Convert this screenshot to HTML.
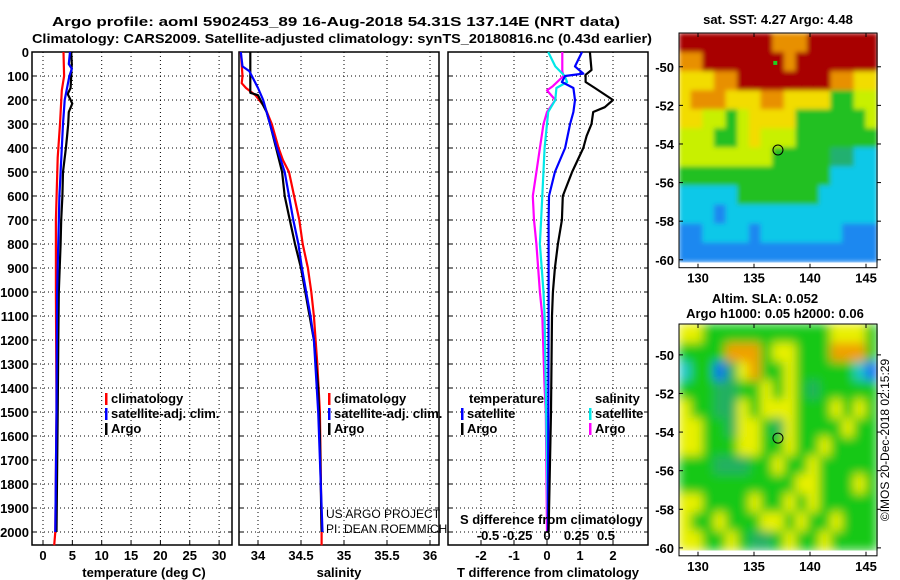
<!DOCTYPE html>
<html><head><meta charset="utf-8">
<style>
html,body{margin:0;padding:0;background:#fff;width:900px;height:580px;overflow:hidden}
svg{display:block;font-family:"Liberation Sans",sans-serif}
text{font-weight:bold;font-size:13px;fill:#000}
text.thin{font-weight:normal;font-size:12px}
</style></head>
<body>
<svg id="fig" width="900" height="580" viewBox="0 0 900 580"></svg>
<script>
// ---------- DATA ----------
const depthTicks=[0,100,200,300,400,500,600,700,800,900,1000,1100,1200,1300,1400,1500,1600,1700,1800,1900,2000];
const tempTicks=[0,5,10,15,20,25,30];
const salTicks=[34,34.5,35,35.5,36];
const salTickLabels=["34","34.5","35","35.5","36"];
const tdiffTicks=[-2,-1,0,1,2];
const sdiffTicks=[-0.5,-0.25,0,0.25,0.5];
const sdiffTickLabels=["-0.5","-0.25","0","0.25","0.5"];

const tArgoDepth=[0,50,100,150,175,200,215,250,300,350,400,500,600,700,800,1000,1200,1500,1750,2000];
const tArgoVal=[4.8,4.9,4.8,4.7,4.2,4.7,5.0,4.4,4.3,4.1,3.9,3.4,3.3,3.1,3.0,2.7,2.6,2.5,2.4,2.3];
const tSatDepth=[0,50,70,100,200,300,400,600,1000,1500,2000];
const tSatVal=[4.6,4.4,4.9,4.5,3.7,3.4,3.2,2.8,2.4,2.3,2.1];
const tClimDepth=[0,100,160,300,440,700,1000,1500,2000,2055];
const tClimVal=[3.5,3.6,3.2,2.9,2.5,2.2,2.2,2.3,2.1,1.9];

const sArgoDepth=[0,170,180,250,300,400,500,600,700,800,900,1000,1100,1200,1400,1600,2000];
const sArgoVal=[33.91,33.91,34.0,34.1,34.14,34.21,34.28,34.31,34.37,34.43,34.5,34.55,34.6,34.65,34.7,34.72,34.74];
const sSatDepth=[0,60,80,150,200,250,300,400,500,600,700,800,900,1000,1100,1200,1500,2000];
const sSatVal=[33.8,33.82,33.9,34.0,34.06,34.1,34.14,34.22,34.31,34.36,34.41,34.47,34.51,34.56,34.61,34.65,34.7,34.75];
const sClimDepth=[0,100,130,150,180,230,300,400,450,500,600,700,800,900,1000,1100,1300,1500,2000,2055];
const sClimVal=[33.8,33.82,33.81,33.86,33.97,34.08,34.16,34.24,34.29,34.36,34.42,34.48,34.52,34.58,34.62,34.65,34.69,34.72,34.74,34.74];

const dTArgoDepth=[0,75,95,125,150,200,230,250,300,350,400,500,600,700,800,900,1000,1100,1500,2000];
const dTArgoVal=[1.3,1.35,1.17,1.17,1.45,2.0,1.75,1.4,1.35,1.2,1.1,0.76,0.48,0.45,0.33,0.24,0.18,0.15,0.12,0.05];
const dTSatDepth=[0,60,90,100,125,150,200,250,300,400,500,600,700,1100,2000];
const dTSatVal=[1.06,0.85,1.1,0.55,0.45,0.8,0.85,0.8,0.7,0.55,0.24,0.06,0.05,0.05,0.03];
const dSArgoDepth=[0,80,100,142,160,200,250,300,400,500,600,700,800,1000,1100,1400,1500,2000];
const dSArgoVal=[0.13,0.13,0.14,0.05,0,0.07,0,-0.03,-0.06,-0.09,-0.12,-0.11,-0.09,-0.06,-0.04,-0.02,-0.01,0];
const dSSatDepth=[0,60,100,125,150,200,250,300,400,600,800,1000,1100,2000];
const dSSatVal=[0.01,0.07,0.15,0.17,0.08,0.07,0.01,0,-0.02,-0.04,-0.06,-0.03,-0.02,0.01];

const lonTicks=[130,135,140,145];
const latTicks=[-50,-52,-54,-56,-58,-60];
const argoLon=137.14, argoLat=-54.31;
const sstGrid=[
"00000000111000000",
"11000000010000000",
"22211000000001122",
"21112221122224433",
"22334322224444443",
"33344323334444444",
"33333333444445566",
"44444444444446666",
"66666444444466666",
"66676666666666666",
"77666676666666777",
"77777777777777777"];
const slaGrid=[
"22444444444442224",
"44441114224441114",
"64475214424444467",
"44455442424544444",
"24455242224442424",
"22445224524444244",
"22444224424424444",
"44455544244244444",
"44444444442244424",
"22444424424244444",
"24424442242442444",
"22442455424424444"];
const sstColors=["#a80000","#e89000","#f2dc00","#c8f000","#22c022","#20b070","#10c8e8","#1a88f0"];
const slaColors=["#000","#f0a000","#e8f000","#b8f000","#12c812","#20b060","#20c8c8","#1070f0"];

// ---------- HELPERS ----------
const svg=document.getElementById('fig');
const NS='http://www.w3.org/2000/svg';
function mk(tag,attrs,parent){const e=document.createElementNS(NS,tag);for(const k in attrs)e.setAttribute(k,attrs[k]);(parent||svg).appendChild(e);return e;}
function txt(s,x,y,anchor,parent,extra){const t=mk('text',Object.assign({x:x,y:y,'text-anchor':anchor||'start'},extra||{}),parent);t.textContent=s;return t;}

const Y0=52, PXD=0.24, YB=545;
const yD=d=>Y0+d*PXD;
const panels=[
 {x0:32,x1:232,name:'temperature-panel',fx:v=>43+v*5.87},
 {x0:239,x1:439,name:'salinity-panel',fx:v=>258+(v-34)*86},
 {x0:448,x1:648,name:'difference-panel',fx:v=>547+v*33,fs:v=>547+v*118}
];

// titles
let t=txt('Argo profile: aoml 5902453_89 16-Aug-2018 54.31S 137.14E (NRT data)',52,26,'start',null,{'font-size':'15',textLength:'568',lengthAdjust:'spacingAndGlyphs'});

t=txt('Climatology: CARS2009. Satellite-adjusted climatology: synTS_20180816.nc (0.43d earlier)',32,43,'start',null,{'font-size':'15',textLength:'620',lengthAdjust:'spacingAndGlyphs'});


depthTicks.forEach(d=>{const l=txt(String(d),29,yD(d)+5,'end');
 });

panels.forEach((p,i)=>{
 const g=mk('g',{});
 
 depthTicks.forEach(d=>{mk('line',{x1:p.x0,x2:p.x1,y1:yD(d),y2:yD(d),stroke:'#000','stroke-width':1,'stroke-dasharray':'1 3'},g);
   mk('line',{x1:p.x0,x2:p.x0+4,y1:yD(d),y2:yD(d),stroke:'#000'},g);mk('line',{x1:p.x1-4,x2:p.x1,y1:yD(d),y2:yD(d),stroke:'#000'},g);});
 let ticks=i==0?tempTicks:i==1?salTicks:tdiffTicks;
 ticks.forEach((v,k)=>{const x=p.fx(v);
   mk('line',{x1:x,x2:x,y1:Y0,y2:YB,stroke:'#000','stroke-dasharray':'1 3'},g);
   mk('line',{x1:x,x2:x,y1:YB-4,y2:YB,stroke:'#000'},g);
   const l=txt(i==1?salTickLabels[k]:String(v),x,560,'middle',g);
   });
 mk('rect',{x:p.x0,y:Y0,width:p.x1-p.x0,height:YB-Y0,fill:'none',stroke:'#000','stroke-width':1.5},g);
});
t=txt('temperature (deg C)',144,577,'middle');
t=txt('salinity',339,577,'middle');
t=txt('T difference from climatology',548,577,'middle');

function line(depths,vals,fx,color,name){
 const pts=depths.map((d,k)=>fx(vals[k]).toFixed(1)+','+yD(d).toFixed(1)).join(' ');
 const pl=mk('polyline',{points:pts,fill:'none',stroke:color,'stroke-width':2.2,'stroke-linejoin':'round'});
 
}
line(tClimDepth,tClimVal,panels[0].fx,'#ff0000','temp-climatology-line');
line(tArgoDepth,tArgoVal,panels[0].fx,'#000','temp-argo-line');
line(tSatDepth,tSatVal,panels[0].fx,'#0000ff','temp-satellite-line');
line(sClimDepth,sClimVal,panels[1].fx,'#ff0000','sal-climatology-line');
line(sArgoDepth,sArgoVal,panels[1].fx,'#000','sal-argo-line');
line(sSatDepth,sSatVal,panels[1].fx,'#0000ff','sal-satellite-line');
line(dSArgoDepth,dSArgoVal,panels[2].fs,'#ff00ff','sdiff-argo-line');
line(dSSatDepth,dSSatVal,panels[2].fs,'#00e8e8','sdiff-satellite-line');
line(dTSatDepth,dTSatVal,panels[2].fx,'#0000ff','tdiff-satellite-line');
line(dTArgoDepth,dTArgoVal,panels[2].fx,'#000','tdiff-argo-line');

function leg(x,y,color,label,name){const g=mk('g',{});
 mk('rect',{x:x,y:y-10,width:2.5,height:12,fill:color},g);txt(label,x+6,y,'start',g);}
leg(105,403,'#ff0000','climatology','legend-entry-climatology');
leg(105,418,'#0000ff','satellite-adj. clim.','legend-entry-satellite');
leg(105,433,'#000','Argo','legend-entry-argo');
leg(328,403,'#ff0000','climatology','legend-entry-climatology-2');
leg(328,418,'#0000ff','satellite-adj. clim.','legend-entry-satellite-2');
leg(328,433,'#000','Argo','legend-entry-argo-2');
t=txt('temperature',469,403);
t=txt('salinity',595,403);
leg(461,418,'#0000ff','satellite','legend-entry-t-satellite');
leg(461,433,'#000','Argo','legend-entry-t-argo');
leg(589,418,'#00e8e8','satellite','legend-entry-s-satellite');
leg(589,433,'#ff00ff','Argo','legend-entry-s-argo');
t=txt('US ARGO PROJECT',326,518,'start',null,{'class':'thin'});
t=txt('PI: DEAN ROEMMICH',326,533,'start',null,{'class':'thin'});
t=txt('S difference from climatology',460,524);
sdiffTicks.forEach((v,k)=>{const l=txt(sdiffTickLabels[k],panels[2].fs(v),540,'middle');
 });

// ---------- MAPS ----------
function drawMap(top,latTop,latPxPerDeg,grid,colors,name,blur){
 const mx0=679,mx1=877;
 const fxL=lon=>698+(lon-130)*11.2;
 const fyL=lat=>top+(latTop-lat)*latPxPerDeg;
 const g=mk('g',{});
 const cw=(mx1-mx0)/grid[0].length;
 const yEnd=fyL(-60.1);
 const rh=(yEnd-top)/grid.length;
 const cg=mk('g',{filter:'url(#'+blur+')'},g);
 mk('rect',{x:mx0,y:top,width:mx1-mx0,height:yEnd-top,fill:colors[4]},cg);
 grid.forEach((row,r)=>{[...row].forEach((c,k)=>{
   const cell=mk('rect',{x:(mx0+k*cw).toFixed(1),y:(top+r*rh).toFixed(1),width:(cw+0.6).toFixed(1),height:(rh+0.6).toFixed(1),fill:colors[+c]},cg);
   
 });});
 mk('rect',{x:mx0,y:top,width:mx1-mx0,height:yEnd-top+6,fill:'none',stroke:'#000','stroke-width':1},g);
 const bottom=yEnd+6;
 lonTicks.forEach(lon=>{const x=fxL(lon);mk('line',{x1:x,x2:x,y1:bottom,y2:bottom-4,stroke:'#000'},g);mk('line',{x1:x,x2:x,y1:top,y2:top+4,stroke:'#000'},g);
   const l=txt(String(lon),x,bottom+15,'middle',g);});
 latTicks.forEach(lat=>{const y=fyL(lat);mk('line',{x1:mx0,x2:mx0+4,y1:y,y2:y,stroke:'#000'},g);mk('line',{x1:mx1,x2:mx1+4,y1:y,y2:y,stroke:'#000'},g);
   const l=txt(String(lat),674,y+5,'end',g);});
 const c=mk('circle',{cx:fxL(argoLon),cy:fyL(argoLat),r:5,fill:'none',stroke:'#000','stroke-width':1},g);
 
 return {fxL,fyL};
}
const defs=mk('defs',{});
const f=mk('filter',{id:'blur',x:'0',y:'0',width:'1',height:'1'},defs);
mk('feGaussianBlur',{stdDeviation:'5',edgeMode:'duplicate'},f);
const f2=mk('filter',{id:'blur2',x:'0',y:'0',width:'1',height:'1'},defs);
mk('feGaussianBlur',{stdDeviation:'2.5',edgeMode:'duplicate'},f2);
const m1=drawMap(33,-48.25,19.3,sstGrid,sstColors,'sst-map','blur2');
const gd=mk('rect',{x:m1.fxL(136.9)-2,y:m1.fyL(-49.8)-2,width:4,height:4,fill:'#20d020'});

t=txt('sat. SST: 4.27 Argo: 4.48',778,24,'middle');
drawMap(324,-48.4,19.3,slaGrid,slaColors,'sla-map','blur');
t=txt('Altim. SLA: 0.052',765,303,'middle');
t=txt('Argo h1000: 0.05 h2000: 0.06',775,318,'middle');
t=txt('©IMOS 20-Dec-2018 02:15:29',0,0,'middle',null,{'class':'thin',transform:'translate(889,440) rotate(-90)'});

</script>
</body></html>
